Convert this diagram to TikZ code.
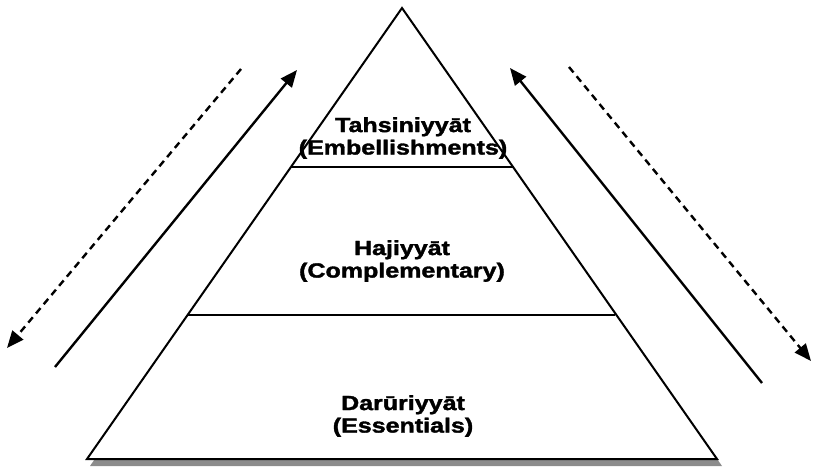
\documentclass[tikz,border=0pt]{standalone}
\usepackage{fontspec}
\setmainfont{Liberation Sans}
\newfontfamily\heavyfont[FakeBold=1.6]{Liberation Sans Bold}
\usetikzlibrary{arrows.meta}

\tikzset{
  edge/.style={line width=2pt, line join=miter},
  shade/.style={fill=black!45},
  level/.style={font=\heavyfont\fontsize{20.5}{22.5}\selectfont, align=center, inner sep=0pt},
  uparrow/.style={line width=2.4pt, -{Triangle[length=17pt,width=14pt]}},
  downarrow/.style={line width=2.4pt, dash pattern=on 7pt off 5pt, -{Triangle[length=17pt,width=14pt]}}
}

\begin{document}
\begin{tikzpicture}[x=1pt,y=-1pt]
   \useasboundingbox (0,0) rectangle (813,471);
   % corners of the pyramid
   \coordinate (apex) at (402,8);
   \coordinate (bl) at (87,459);
   \coordinate (br) at (717,459);
   % shadow, then the pyramid itself
   \fill[shade] (404,12) -- (722,466) -- (90,466) -- cycle;
   \filldraw[edge, fill=white] (apex) -- (br) -- (bl) -- cycle;
   % dividers
   \coordinate (t1) at (291,167);
   \coordinate (t2) at (513,167);
   \coordinate (m1) at (188,315);
   \coordinate (m2) at (615,315);
   \draw[edge] (t1) -- (t2);
   \draw[edge] (m1) -- (m2);
   % labels
   \node[level] (top) at (403,138) {\scalebox{1.22}[1]{Tahsiniyyāt}\\\scalebox{1.22}[1]{(Embellishments)}};
   \node[level] (mid) at (402,261) {\scalebox{1.22}[1]{Hajiyyāt}\\\scalebox{1.22}[1]{(Complementary)}};
   \node[level] (bot) at (403,416) {\scalebox{1.22}[1]{Darūriyyāt}\\\scalebox{1.22}[1]{(Essentials)}};
   % arrows on the left
   \coordinate (lu0) at (55,367);
   \coordinate (lu1) at (297,70);
   \coordinate (ld0) at (241,69);
   \coordinate (ld1) at (7,348);
   \draw[uparrow] (lu0) -- (lu1);
   \draw[downarrow] (ld0) -- (ld1);
   % arrows on the right
   \coordinate (ru0) at (762,383);
   \coordinate (ru1) at (510,68);
   \coordinate (rd0) at (569,67);
   \coordinate (rd1) at (811,361);
   \draw[uparrow] (ru0) -- (ru1);
   \draw[downarrow] (rd0) -- (rd1);
\end{tikzpicture}
\end{document}
